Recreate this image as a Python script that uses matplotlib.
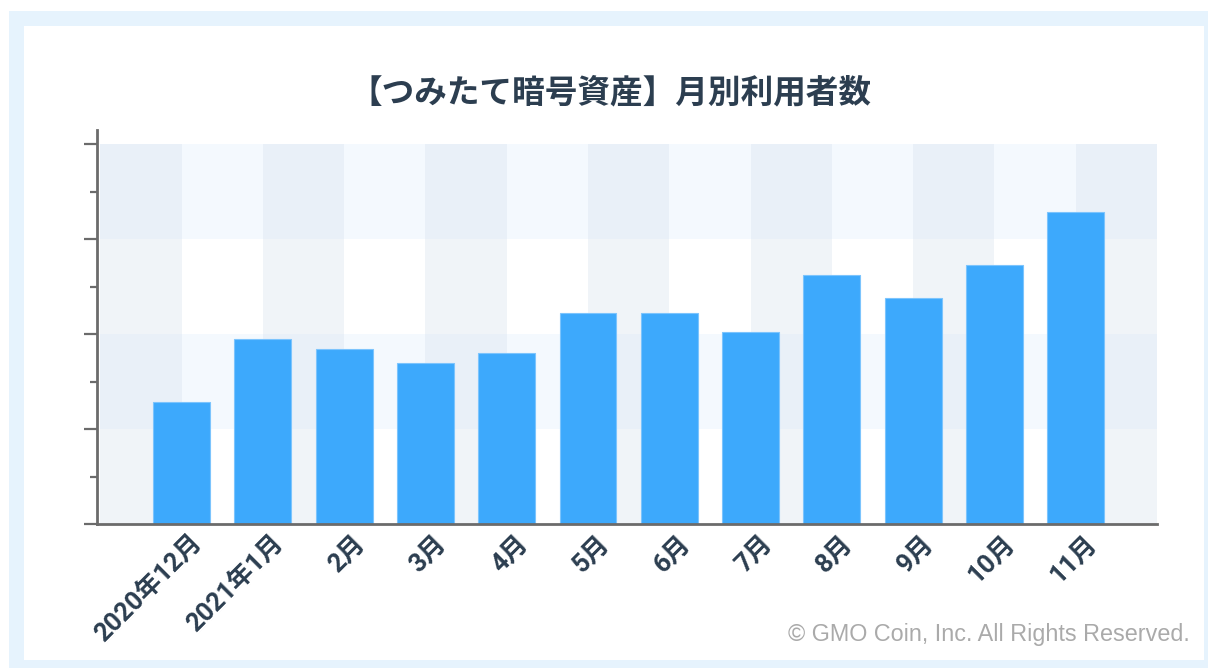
import matplotlib.pyplot as plt
from matplotlib.patches import Rectangle
from matplotlib.transforms import ScaledTranslation
import numpy as np

plt.rcParams['font.family'] = ['Noto Sans CJK JP', 'DejaVu Sans']

# data (y axis has no labels, units are relative)
months = ["2020年12月", "2021年1月", "2月", "3月", "4月", "5月",
          "6月", "7月", "8月", "9月", "10月", "11月"]
users = [1.28, 1.95, 1.84, 1.70, 1.80, 2.22, 2.22, 2.02, 2.62, 2.38, 2.73, 3.29]

title = "【つみたて暗号資産】月別利用者数"
credit = "© GMO Coin, Inc. All Rights Reserved."

text_col = "#2c3e50"
bar_col = "#3da9fc"
spine_col = "#6b6b6b"

W, H = 1208, 668
fig = plt.figure(figsize=(W / 100, H / 100), dpi=100)

# light blue frame with white panel
fig.patches.append(Rectangle((9 / W, 0), 1 - 9 / W, 1 - 11 / H, transform=fig.transFigure,
                             facecolor="#e6f3fd", edgecolor="none", zorder=-10))
fig.patches.append(Rectangle((24 / W, 8 / H), (1204 - 24) / W, (660 - 26) / H,
                             transform=fig.transFigure, facecolor="white",
                             edgecolor="none", zorder=-9))

ax = fig.add_axes([97 / W, 144 / H, (1157 - 97) / W, (524 - 130) / H])
ax.set_zorder(1)
ax.patch.set_alpha(0)

x = np.arange(len(months))
xmin, xmax = -1.04, 12.0
ax.set_xlim(xmin, xmax)
ax.set_ylim(0, 4.15)

# checkerboard background
cell_cols = {(True, True): "#e9f0f8", (True, False): "#f4f9fe",
             (False, True): "#f0f4f8", (False, False): "#ffffff"}
for k in range(13):
    x0 = max(k - 1, xmin)
    x1 = min(k, xmax)
    for r in range(4):
        c = cell_cols[(r % 2 == 1, k % 2 == 0)]
        ax.add_patch(Rectangle((x0, r), x1 - x0, 1, facecolor=c,
                               edgecolor="none", zorder=0))

ax.bar(x, users, width=0.7, color=bar_col, edgecolor="#7cc4fd",
       linewidth=0.8, zorder=2)

for s in ["top", "right"]:
    ax.spines[s].set_visible(False)
for s in ["left", "bottom"]:
    ax.spines[s].set_color(spine_col)
    ax.spines[s].set_linewidth(2)
    ax.spines[s].set_zorder(3)

ax.set_yticks(np.arange(0, 5, 1))
ax.set_yticks(np.arange(0.5, 4, 1), minor=True)
ax.tick_params(axis="y", which="major", length=9.5, width=1.6, color=spine_col,
               labelleft=False)
ax.tick_params(axis="y", which="minor", length=5, width=1.6, color=spine_col)

ax.set_xticks(x)
ax.set_xticklabels(months, rotation=45, ha="right", va="top",
                   rotation_mode="anchor", fontsize=18.5, fontweight="bold",
                   color=text_col, family=["Roboto", "Noto Sans CJK JP"])
ax.tick_params(axis="x", length=0, pad=5)
shift = ScaledTranslation(9 / 100, 0, fig.dpi_scale_trans)
for lab in ax.get_xticklabels():
    lab.set_transform(lab.get_transform() + shift)

fig.text(610 / W, 1 - 93 / H, title, ha="center", va="center",
         fontsize=23.5, fontweight="bold", color=text_col)
fig.text(1190 / W, 1 - 634 / H, credit, ha="right", va="center",
         fontsize=16.8, color="#aaaaaa", family=["Liberation Sans", "DejaVu Sans"])

fig.savefig("out.png", dpi=100)
